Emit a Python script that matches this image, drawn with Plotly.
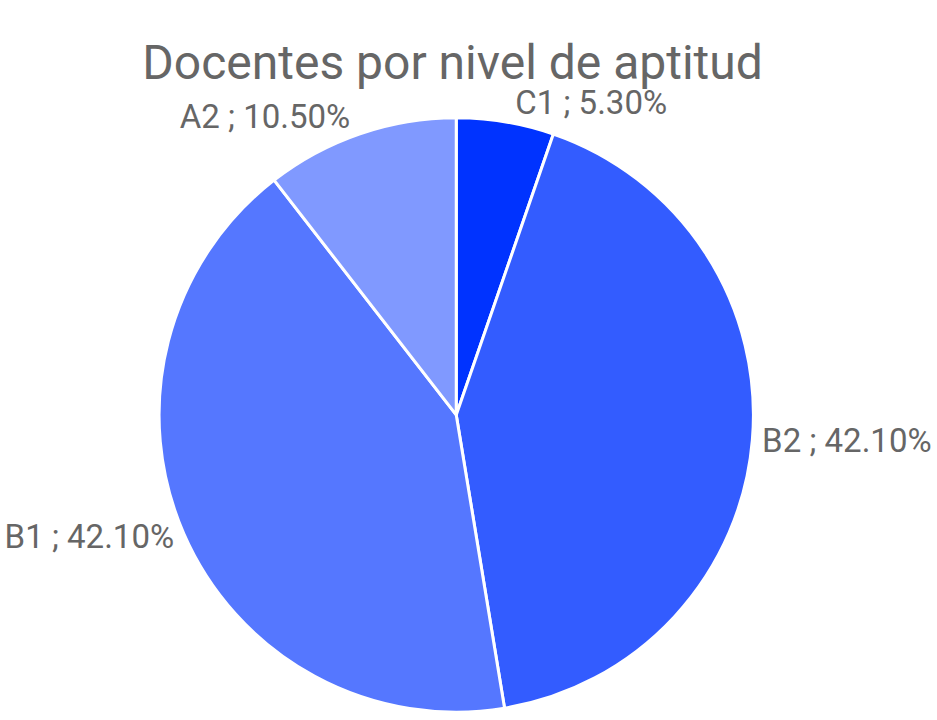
import plotly.graph_objects as go

labels = ["C1", "B2", "B1", "A2"]
values = [5.3, 42.1, 42.1, 10.5]
colors = ["#0033ff", "#335cff", "#5577ff", "#8099ff"]
title = "Docentes por nivel de aptitud"

W, H = 937, 720
fig = go.Figure(go.Pie(
    labels=labels,
    values=values,
    sort=False,
    direction="clockwise",
    rotation=0,
    marker=dict(colors=colors, line=dict(color="white", width=3)),
    textposition="outside",
    texttemplate="%{label} ; %{value:.2f}%",
    textfont=dict(family="Roboto", size=33, color="#666666"),
    domain=dict(x=[153 / W, 759 / W], y=[0, 1 - 118 / H]),
    showlegend=False,
    hoverinfo="label+percent",
))
fig.update_layout(
    width=W, height=H,
    margin=dict(l=0, r=0, t=0, b=0),
    paper_bgcolor="white",
    title=dict(text=title, x=0.483, xanchor="center", y=1 - 62 / H, yanchor="middle",
               font=dict(family="Roboto", size=48, color="#666666")),
)
fig.write_html("out.html", config={"displayModeBar": False},
               post_script="document.body.style.margin='0';")
